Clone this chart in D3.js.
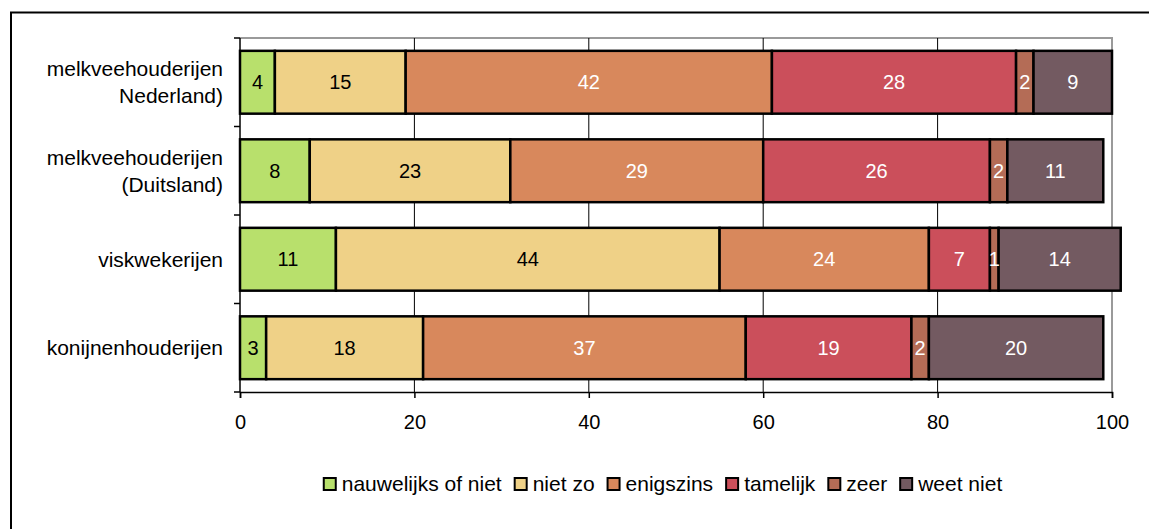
<!DOCTYPE html>
<html>
<head>
<meta charset="utf-8">
<script src="https://cdn.jsdelivr.net/npm/d3@7"></script>
<style>
  html, body { margin: 0; padding: 0; background: #fff; }
  svg { display: block; font-family: "Liberation Sans", Arial, sans-serif; }
</style>
</head>
<body>
<svg id="chart" width="1149" height="529"></svg>
<script>
// ---- data ----
const categories = ["melkveehouderijen Nederland)", "melkveehouderijen (Duitsland)", "viskwekerijen", "konijnenhouderijen"];
const categoryLines = [["melkveehouderijen", "Nederland)"], ["melkveehouderijen", "(Duitsland)"], ["viskwekerijen"], ["konijnenhouderijen"]];
const seriesNames = ["nauwelijks of niet", "niet zo", "enigszins", "tamelijk", "zeer", "weet niet"];
const nauwelijks = [4, 8, 11, 3];
const nietZo = [15, 23, 44, 18];
const enigszins = [42, 29, 24, 37];
const tamelijk = [28, 26, 7, 19];
const zeer = [2, 2, 1, 2];
const weetNiet = [9, 11, 14, 20];
const xTicks = [0, 20, 40, 60, 80, 100];

const seriesValues = [nauwelijks, nietZo, enigszins, tamelijk, zeer, weetNiet];
const colors = ["#B8E06C", "#EFD187", "#D8885C", "#CB4F5B", "#B46C56", "#735A61"];
const labelColors = ["#000", "#000", "#fff", "#fff", "#fff", "#fff"];

const rows = categories.map((c, i) => {
  const r = { cat: c };
  seriesNames.forEach((s, j) => r[s] = seriesValues[j][i]);
  return r;
});

const svg = d3.select("#chart");
svg.append("rect").attr("width", 1149).attr("height", 529).attr("fill", "#fff");
// outer frame
svg.append("rect").attr("x", 11).attr("y", 12.5).attr("width", 1200).attr("height", 600)
  .attr("fill", "none").attr("stroke", "#000").attr("stroke-width", 2);

const pLeft = 240, pRight = 1112, pTop = 38, pBottom = 392;
const x = d3.scaleLinear().domain([0, 100]).range([pLeft, pRight]);
const y = d3.scaleBand().domain(categories).range([pTop, pBottom]).paddingInner(0.29).paddingOuter(0.145);

// plot-area border (gray top & right)
svg.append("path")
  .attr("d", `M${pLeft},${pTop}H${pRight}V${pBottom}`)
  .attr("fill", "none").attr("stroke", "#9a9a9a").attr("stroke-width", 2);

// gridlines
svg.append("g").selectAll("line").data(xTicks.filter(t => t > 0 && t < 100)).join("line")
  .attr("x1", d => x(d)).attr("x2", d => x(d)).attr("y1", pTop).attr("y2", pBottom)
  .attr("stroke", "#000").attr("stroke-width", 1);

// bars
const stack = d3.stack().keys(seriesNames)(rows);
const gBars = svg.append("g");
stack.forEach((layer, j) => {
  const g = gBars.append("g");
  g.selectAll("rect").data(layer).join("rect")
    .attr("x", d => x(d[0])).attr("width", d => x(d[1]) - x(d[0]))
    .attr("y", d => y(d.data.cat)).attr("height", y.bandwidth())
    .attr("fill", colors[j]).attr("stroke", "#000").attr("stroke-width", 2.5);
});
stack.forEach((layer, j) => {
  gBars.append("g").selectAll("text").data(layer).join("text")
    .attr("x", d => (x(d[0]) + x(d[1])) / 2)
    .attr("y", d => y(d.data.cat) + y.bandwidth() / 2)
    .attr("dy", "0.36em").attr("text-anchor", "middle")
    .attr("font-size", 20).attr("fill", labelColors[j])
    .text(d => d[1] - d[0]);
});

// bottom axis
const xAxis = svg.append("g").attr("transform", `translate(0,${pBottom})`)
  .call(d3.axisBottom(x).tickValues(xTicks).tickSize(6).tickPadding(17));
xAxis.select(".domain").attr("stroke", "#000").attr("stroke-width", 1.5);
xAxis.selectAll(".tick line").attr("stroke", "#000").attr("stroke-width", 1.5);
xAxis.selectAll(".tick text").attr("font-size", 20).attr("fill", "#000")
  .attr("font-family", "Liberation Sans, Arial, sans-serif");

// left axis line + ticks at band boundaries
const bounds = categories.map(c => y(c) - y.step() * y.paddingInner() / 2).concat([pBottom]);
svg.append("line").attr("x1", pLeft).attr("x2", pLeft).attr("y1", pTop).attr("y2", pBottom)
  .attr("stroke", "#000").attr("stroke-width", 1.5);
svg.append("g").selectAll("line").data(bounds).join("line")
  .attr("x1", pLeft - 6).attr("x2", pLeft).attr("y1", d => d).attr("y2", d => d)
  .attr("stroke", "#000").attr("stroke-width", 1.5);

// category labels
categories.forEach((c, i) => {
  const lines = categoryLines[i];
  const cy = y(c) + y.bandwidth() / 2;
  const lh = 27;
  const t = svg.append("text").attr("text-anchor", "end").attr("font-size", 21).attr("fill", "#000");
  lines.forEach((ln, k) => {
    t.append("tspan").attr("x", 223)
      .attr("y", cy + (k - (lines.length - 1) / 2) * lh)
      .attr("dy", "0.36em").text(ln);
  });
});

// legend
const leg = svg.append("g");
let cursor = 0;
seriesNames.forEach((s, j) => {
  const g = leg.append("g");
  g.append("rect").attr("x", 1).attr("y", -5).attr("width", 12).attr("height", 12)
    .attr("fill", colors[j]).attr("stroke", "#000").attr("stroke-width", 2);
  const t = g.append("text").attr("x", 19).attr("y", 0).attr("dy", "0.36em")
    .attr("font-size", 21).attr("fill", "#000").text(s);
  const w = 19 + t.node().getComputedTextLength();
  g.attr("transform", `translate(${cursor},0)`);
  cursor += w + 12;
});
const totalW = cursor - 12;
leg.attr("transform", `translate(${662.5 - totalW / 2},${483})`);
</script>
</body>
</html>
